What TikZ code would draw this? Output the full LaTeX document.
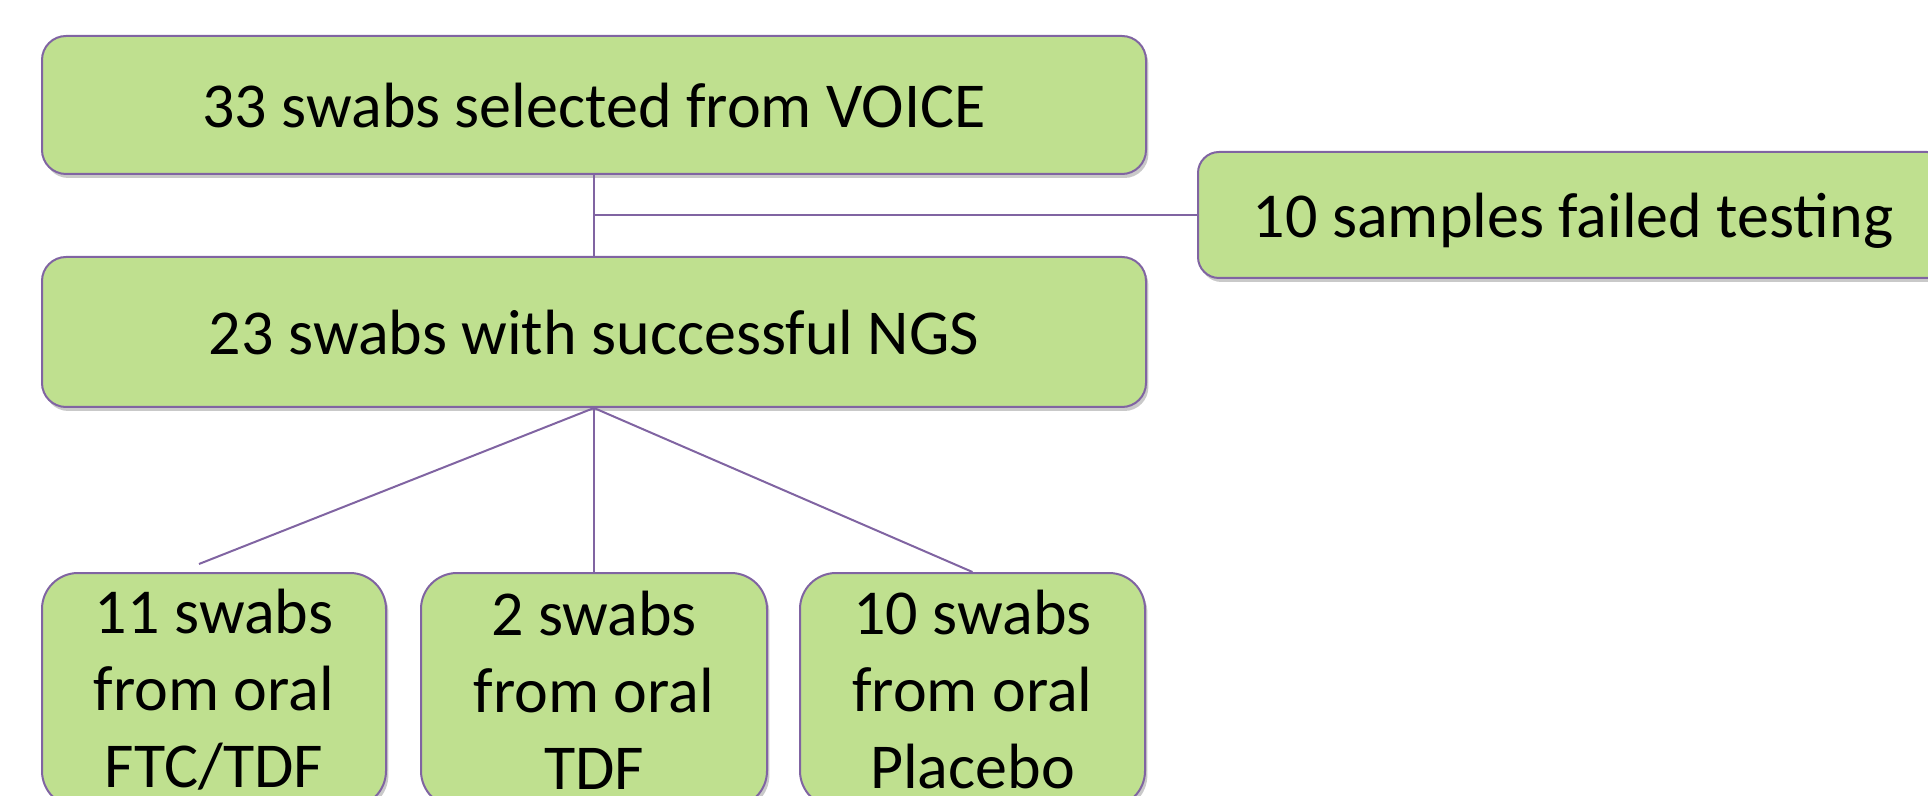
\documentclass[tikz,border=0pt]{standalone}
\usepackage{fontspec}
\setmainfont{Carlito}
\usetikzlibrary{shadows}
\definecolor{boxfill}{RGB}{191,224,143}
\definecolor{boxline}{RGB}{128,100,162}
\tikzset{
  flowbox/.style={draw=boxline, line width=1pt, fill=boxfill, inner sep=0pt,
    font=\fontsize{32}{38.5}\selectfont,
    drop shadow={shadow xshift=1.2pt, shadow yshift=-2pt, opacity=0.3, fill=black!70}},
  onebox/.style={flowbox, text depth=0pt},
  link/.style={draw=boxline, line width=1pt}
}
\begin{document}
\begin{tikzpicture}[x=0.5pt, y=-0.5pt]
\useasboundingbox (0,0) rectangle (1928,796);
\clip (0,0) rectangle (1928,796);
\node[onebox, rounded corners=12pt, minimum width=552pt, minimum height=69pt] (top) at (594,105) {33 swabs selected from VOICE};
\node[onebox, rounded corners=12pt, minimum width=552pt, minimum height=75pt] (mid) at (594,332) {23 swabs with successful NGS};
\node[onebox, rounded corners=10.5pt, minimum width=375pt, minimum height=63pt] (fail) at (1573,215) {10 samples failed testing};
\node[flowbox, rounded corners=18pt, minimum width=172pt, minimum height=117pt, align=center] (b1) at (214,690) {11 swabs\\from oral\\FTC/TDF};
\node[flowbox, rounded corners=18pt, minimum width=173pt, minimum height=117pt, align=center] (b2) at (594,690) {2 swabs\\from oral\\TDF};
\node[flowbox, rounded corners=18pt, minimum width=172.5pt, minimum height=117pt, align=center] (b3) at (972.5,690) {10 swabs\\from oral\\Placebo};
\coordinate (c1) at (199,564);
\draw[link] (top.south) -- (mid.north);
\draw[link] (fail.west) -- (fail.west -| top.south);
\draw[link] (mid.south) -- (c1);
\draw[link] (mid.south) -- (b2.north);
\draw[link] (mid.south) -- (b3.north);
\end{tikzpicture}
\end{document}
